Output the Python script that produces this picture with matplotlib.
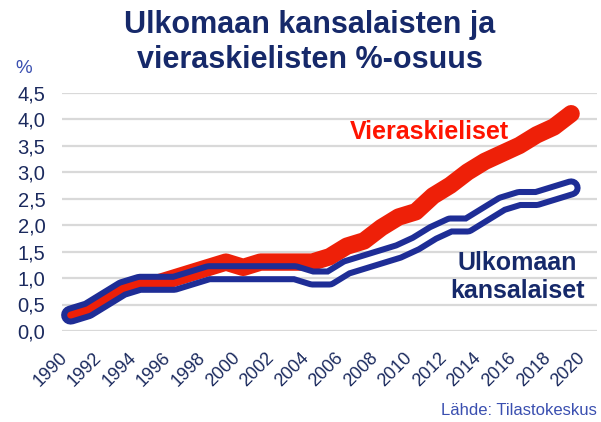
import numpy as np
import matplotlib
matplotlib.use("Agg")
import matplotlib.pyplot as plt
import matplotlib.patheffects as pe

plt.rcParams['font.family'] = ['Liberation Sans', 'DejaVu Sans']

# ---------------------------------------------------------------------------
# data (% of population)
# ---------------------------------------------------------------------------
years = list(range(1990, 2020))
vieraskieliset = [0.3, 0.4, 0.6, 0.8, 0.9, 0.9, 1.0, 1.1, 1.2, 1.3,
                  1.2, 1.3, 1.3, 1.3, 1.3, 1.4, 1.6, 1.7, 1.95, 2.15,
                  2.25, 2.55, 2.75, 3.0, 3.2, 3.35, 3.5, 3.7, 3.85, 4.1]
ulkomaan = [0.3, 0.4, 0.6, 0.8, 0.9, 0.9, 0.9, 1.0, 1.1, 1.1,
            1.1, 1.1, 1.1, 1.1, 1.0, 1.0, 1.2, 1.3, 1.4, 1.5,
            1.65, 1.85, 2.0, 2.0, 2.2, 2.4, 2.5, 2.5, 2.6, 2.7]
xticks = list(range(1990, 2021, 2))
yticks = [0, 0.5, 1.0, 1.5, 2.0, 2.5, 3.0, 3.5, 4.0, 4.5]

# ---------------------------------------------------------------------------
# styles
# ---------------------------------------------------------------------------
W, H = 601, 422
RED = '#EE2008'
BLUE = '#1E2D96'
NAVY = '#16296A'
TICK = '#1B2A5E'
LIGHT = '#3A4FB0'
BLUE_RGB = np.array(matplotlib.colors.to_rgb(BLUE))


def hollow(img, dpi):
    # turn the white core of the double stroke transparent (Excel "double" line)
    out = img.copy()
    core = (img[..., :3] - BLUE_RGB) / (1.0 - BLUE_RGB)
    core = np.clip(core.mean(axis=-1), 0, 1)
    out[..., :3] = BLUE_RGB
    out[..., 3] = img[..., 3] * (1.0 - core)
    return out, 0, 0


fig = plt.figure(figsize=(W / 100, H / 100), dpi=100)
ax = fig.add_axes([62 / W, 1 - 331 / H, 535 / W, (331 - 92.5) / H])

ax.set_xlim(1989.5, 2020.5)
ax.set_ylim(0, 4.5)
for s in ax.spines.values():
    s.set_visible(False)

ax.set_yticks(yticks)
ax.set_yticklabels([f"{v:.1f}".replace('.', ',') for v in yticks])
ax.set_xticks(xticks)
ax.set_xticklabels([str(y) for y in xticks], rotation=45, ha='right', va='top')
ax.tick_params(axis='y', length=0, pad=12, labelsize=14.5, labelcolor=TICK)
ax.tick_params(axis='x', length=0, pad=13, labelsize=13, labelcolor=TICK)
ax.grid(axis='y', color='#D9D9D9', lw=1.6)
ax.set_axisbelow(True)

ax.plot(years, vieraskieliset, color=RED, lw=12.5,
        solid_capstyle='round', solid_joinstyle='round', zorder=2, clip_on=False)

ring, = ax.plot(years, ulkomaan, color=BLUE, lw=13.7,
                solid_capstyle='round', solid_joinstyle='round', zorder=3, clip_on=False)
ring.set_path_effects([pe.Stroke(linewidth=13.7, foreground=BLUE),
                       pe.Stroke(linewidth=5.0, foreground='white')])
ring.set_agg_filter(hollow)

# texts
fig.text(310 / W, 1 - 10 / H, "Ulkomaan kansalaisten ja\nvieraskielisten %-osuus",
         ha='center', va='top', fontsize=22, fontweight='bold', color=NAVY,
         linespacing=1.2)
fig.text(15 / W, 1 - 73 / H, "%", ha='left', va='baseline', fontsize=13.5, color=LIGHT)
fig.text(350 / W, 1 - 139 / H, "Vieraskieliset", ha='left', va='baseline',
         fontsize=18, fontweight='bold', color='#FF1400')
fig.text(517 / W, 1 - 251 / H, "Ulkomaan\nkansalaiset", ha='center', va='top',
         fontsize=18, fontweight='bold', color=NAVY, linespacing=1.2)
fig.text(597 / W, 1 - 415 / H, "Lähde: Tilastokeskus", ha='right', va='baseline',
         fontsize=12, color=LIGHT)

fig.savefig("out.png", dpi=100)
